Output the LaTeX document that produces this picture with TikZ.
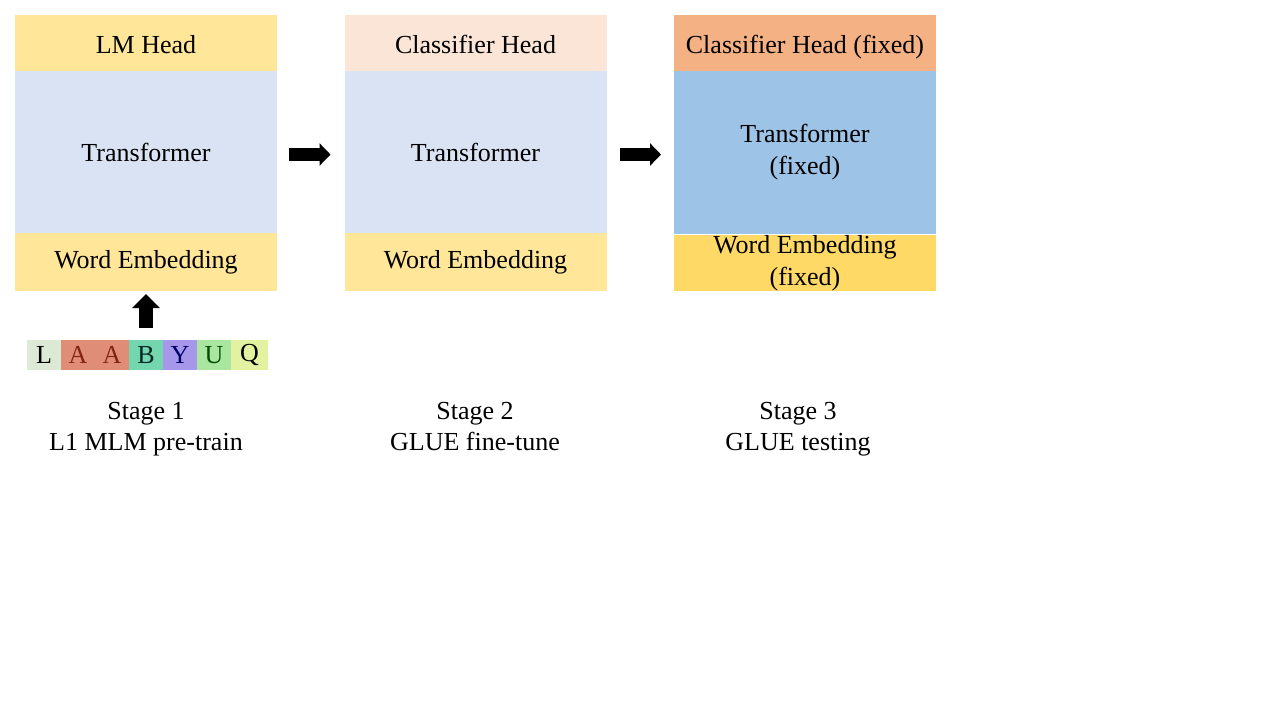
\documentclass[tikz,border=0pt]{standalone}
\usepackage{fontspec}
\setmainfont{Liberation Serif}
\usepackage{tikz}
\usetikzlibrary{positioning,arrows.meta}

\definecolor{lmyellow}{HTML}{FFE699}
\definecolor{fixyellow}{HTML}{FFD966}
\definecolor{paleblue}{HTML}{DAE3F3}
\definecolor{fixblue}{HTML}{9DC3E6}
\definecolor{palepeach}{HTML}{FBE5D6}
\definecolor{fixpeach}{HTML}{F4B183}
\definecolor{tokL}{HTML}{DCE9D5}
\definecolor{tokA}{HTML}{E08D78}
\definecolor{tokB}{HTML}{74D6AE}
\definecolor{tokY}{HTML}{A797EB}
\definecolor{tokU}{HTML}{A9E6A0}
\definecolor{tokQ}{HTML}{E3F2A0}

\tikzstyle{layer} = [rectangle, inner sep=0pt, outer sep=0pt, minimum width=131pt, align=center, font=\fontsize{13}{16}\selectfont]
\tikzstyle{head layer} = [layer, minimum height=28.5pt, text height=9.5pt, text depth=0pt]
\tikzstyle{thick layer} = [layer, minimum height=81.5pt]
\tikzstyle{emb layer} = [layer, minimum height=29pt]
\tikzstyle{token} = [rectangle, inner sep=0pt, outer sep=0pt, minimum width=17pt, minimum height=15pt, font=\fontsize{13}{16}\selectfont]
\tikzstyle{bigarrow} = [line width=6.5pt, -{Triangle[length=5.5pt,width=11pt]}]
\tikzstyle{uparrow} = [line width=7pt, -{Triangle[length=7pt,width=13.5pt]}]
\tikzstyle{caption} = [align=center, anchor=north, font=\fontsize{13}{15.5}\selectfont]

\begin{document}
\begin{tikzpicture}[x=0.5pt, y=-0.5pt]
		\useasboundingbox[fill=white] (0,0) rectangle (1280,720);
		
		% stage 1
		\node [head layer, fill=lmyellow] (head1) at (146,43.5) {LM Head};
		\node [thick layer, fill=paleblue, below=-0.5pt of head1] (tf1) {Transformer};
		\node [emb layer, fill=lmyellow, below=-0.5pt of tf1] (emb1) {Word Embedding};
		
		% stage 2
		\node [head layer, fill=palepeach] (head2) at (475.5,43.5) {Classifier Head};
		\node [thick layer, fill=paleblue, below=-0.5pt of head2] (tf2) {Transformer};
		\node [emb layer, fill=lmyellow, below=-0.5pt of tf2] (emb2) {Word Embedding};
		
		% stage 3
		\node [head layer, fill=fixpeach] (head3) at (805,43.5) {Classifier Head (fixed)};
		\node [thick layer, fill=fixblue, below=-0.5pt of head3] (tf3) {Transformer\\(fixed)};
		\node [emb layer, fill=fixyellow, below=0.3pt of tf3, minimum height=28.2pt] (emb3) {Word Embedding\\(fixed)};
		
		% input tokens
		\node [token, fill=tokL] (tL) at (44,355) {L};
		\node [token, fill=tokA, text=black!60!red!70!brown, right=0pt of tL] (tA1) {A};
		\node [token, fill=tokA, text=black!60!red!70!brown, right=0pt of tA1] (tA2) {A};
		\node [token, fill=tokB, text=black!70!teal, right=0pt of tA2] (tB) {B};
		\node [token, fill=tokY, text=black!60!blue, right=0pt of tB] (tY) {Y};
		\node [token, fill=tokU, text=black!70!green, right=0pt of tY] (tU) {U};
		\node [token, fill=tokQ, right=0pt of tU, minimum width=18.5pt] (tQ) {Q};
		
		\draw [uparrow, shorten <=6pt, shorten >=1.5pt] (tB.north) -- (tB.north |- emb1.south);
		\draw [bigarrow, shorten <=6pt, shorten >=7pt] ([yshift=-1pt]tf1.east) -- ([yshift=-1pt]tf2.west);
		\draw [bigarrow, shorten <=6.5pt, shorten >=6.5pt] ([yshift=-1pt]tf2.east) -- ([yshift=-1pt]tf3.west);
		
		% captions
		\node [caption] (cap1) at (146,395) {Stage 1\\L1 MLM pre-train};
		\node [caption] (cap2) at (475,395) {Stage 2\\GLUE fine-tune};
		\node [caption] (cap3) at (798,395) {Stage 3\\GLUE testing};
		
\end{tikzpicture}
\end{document}
